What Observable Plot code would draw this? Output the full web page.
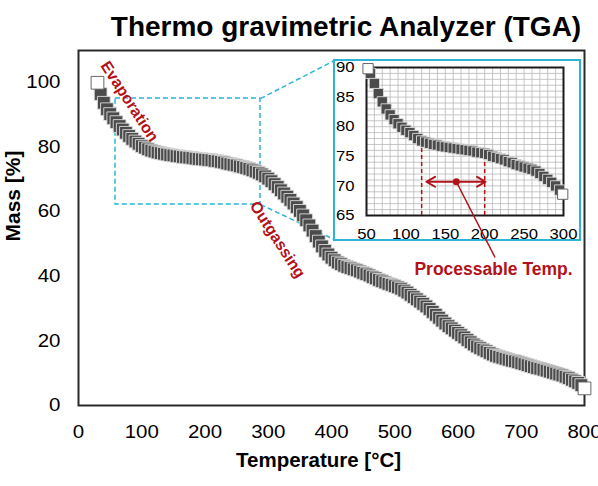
<!DOCTYPE html>
<html><head><meta charset="utf-8">
<script src="https://cdn.jsdelivr.net/npm/d3@7"></script>
<script src="https://cdn.jsdelivr.net/npm/@observablehq/plot@0.6"></script>
<style>
body{margin:0;background:#fff;}
#wrap{position:relative;width:598px;height:486px;overflow:hidden;font-family:"Liberation Sans",Arial,sans-serif;}
#title{height:44px;box-sizing:border-box;padding-top:13px;padding-left:94px;line-height:28px;font-size:28px;font-weight:bold;text-align:center;white-space:nowrap;color:#000;}
#inset{position:absolute;left:333px;top:59px;width:248px;height:182px;box-sizing:border-box;border:2px solid #2db3d6;background:#fff;}
</style></head>
<body><div id="wrap"><div id="title">Thermo gravimetric Analyzer (TGA)</div><div id="main"></div><div id="inset"></div></div>
<script>
// ---- main TGA curve (Temperature °C, Mass %) ----
const mainTemp = [30,35,40,45,50,55,60,65,70,75,80,85,90,95,100,105,110,115,120,125,130,135,140,145,150,155,160,165,170,175,180,185,190,195,200,205,210,215,220,225,230,235,240,245,250,255,260,265,270,275,280,285,290,295,300,305,310,315,320,325,330,335,340,345,350,355,360,365,370,375,380,385,390,395,400,405,410,415,420,425,430,435,440,445,450,455,460,465,470,475,480,485,490,495,500,505,510,515,520,525,530,535,540,545,550,555,560,565,570,575,580,585,590,595,600,605,610,615,620,625,630,635,640,645,650,655,660,665,670,675,680,685,690,695,700,705,710,715,720,725,730,735,740,745,750,755,760,765,770,775,780,785,790,795,800];
const mainMass = [100,96.5,93.8,91.8,90.3,89.0,87.8,86.6,85.5,84.5,83.5,82.6,81.8,81.1,80.4,79.9,79.4,79.0,78.7,78.4,78.2,78.0,77.8,77.6,77.5,77.3,77.2,77.0,76.9,76.8,76.7,76.5,76.4,76.3,76.2,76.1,76.0,75.8,75.7,75.5,75.3,75.0,74.8,74.6,74.4,74.1,73.9,73.6,73.3,72.9,72.5,72.1,71.6,71.0,70.3,69.5,68.6,67.7,66.7,65.7,64.7,63.7,62.6,61.5,60.3,58.9,57.4,55.8,54.2,52.5,50.8,49.3,47.9,46.8,45.8,45.0,44.3,43.8,43.3,42.9,42.6,42.2,41.9,41.5,41.1,40.7,40.3,39.8,39.4,38.9,38.5,38.1,37.7,37.4,37.0,36.6,36.2,35.6,35.0,34.3,33.6,32.9,32.2,31.5,30.7,29.9,29.0,28.1,27.2,26.3,25.4,24.6,23.9,23.2,22.5,21.8,21.1,20.3,19.6,18.9,18.3,17.8,17.3,16.8,16.3,15.8,15.4,15.1,14.8,14.5,14.2,13.9,13.7,13.4,13.1,12.8,12.5,12.2,11.9,11.6,11.4,11.1,10.8,10.5,10.2,9.9,9.6,9.3,8.9,8.5,8.0,7.5,7.0,6.3,5.3];

// ---- inset (zoomed 50–300 °C) ----
const insetTemp = [52,55,60,65,70,75,80,85,90,95,100,105,110,115,120,125,130,135,140,145,150,155,160,165,170,175,180,185,190,195,200,205,210,215,220,225,230,235,240,245,250,255,260,265,270,275,280,285,290,295,299];
const insetMass = [89.8,89.0,87.3,85.6,84.2,83.0,82.0,81.2,80.5,79.9,79.4,79.0,78.5,78.0,77.6,77.4,77.2,77.0,76.9,76.7,76.6,76.5,76.4,76.3,76.2,76.1,76.0,75.9,75.7,75.6,75.5,75.3,75.0,74.8,74.6,74.4,74.1,73.9,73.6,73.4,73.2,73.0,72.8,72.5,72.1,71.6,71.1,70.6,70.0,69.3,68.6];

// ---- ticks ----
const xTicks = [0,100,200,300,400,500,600,700,800];
const yTicks = [0,20,40,60,80,100];
const insetXTicks = [50,100,150,200,250,300];
const insetYTicks = [65,70,75,80,85,90];
const insetGridX = [50,60,70,80,90,100,110,120,130,140,150,160,170,180,190,200,210,220,230,240,250,260,270,280,290,300];
const insetGridY = [65,66,67,68,69,70,71,72,73,74,75,76,77,78,79,80,81,82,83,84,85,86,87,88,89,90];

// ---- annotations ----
const annotLabels = ["Evaporation","Outgassing"];
const annotTemp = [80.6, 314.6];
const annotMass = [94.2, 51.4];
const zoomBoxTemp = [58.5, 287.7];
const zoomBoxMass = [62.3, 95.1];
const insetCornerTemp = 404.7;
const insetCornerMass = [106.9, 51.4];
const processTemp = [120, 200];
const processTop = [76.3, 74.4];
const arrowTemp = [126, 164, 201];
const arrowMass = 70.7;
const leaderEnd = [213.2, 57.9];
const processLabel = "Processable Temp.";
const processLabelAt = [211.2, 55.9];

const RED = "#b3121a", CYAN = "#2db3d6";
const FONT = "'Liberation Sans', Arial, sans-serif";

const mainData = mainTemp.map((t, i) => ({t, m: mainMass[i], end: i === 0 || i === mainTemp.length - 1}));
const insetData = insetTemp.map((t, i) => ({t, m: insetMass[i], end: i === 0 || i === insetTemp.length - 1}));
const zoomBox = [{x1: zoomBoxTemp[0], x2: zoomBoxTemp[1], y1: zoomBoxMass[0], y2: zoomBoxMass[1]}];
const connectors = [
  {x1: zoomBoxTemp[1], y1: zoomBoxMass[1], x2: insetCornerTemp, y2: insetCornerMass[0]},
  {x1: zoomBoxTemp[1], y1: zoomBoxMass[0], x2: insetCornerTemp, y2: insetCornerMass[1]}
];
const annots = annotLabels.map((label, i) => ({label, t: annotTemp[i], m: annotMass[i]}));

function stretchTicks(svg, k) {
  svg.querySelectorAll('g[aria-label$="tick label"] text').forEach(t => {
    let tr = t.getAttribute("transform") || "";
    const x = t.getAttribute("x");
    if (x !== null) { tr += ` translate(${x},0)`; t.removeAttribute("x"); }
    t.setAttribute("transform", `${tr} scale(${k},1)`);
  });
}

const main = Plot.plot({
  width: 598, height: 442,
  marginTop: 6, marginLeft: 78, marginRight: 14, marginBottom: 81,
  style: {fontFamily: FONT, fontSize: "17.5px", color: "#000", background: "transparent", overflow: "visible"},
  x: {domain: [0, 800]},
  y: {domain: [0, 110]},
  marks: [
    Plot.axisX({ticks: xTicks, tickSize: 0, tickPadding: 20, label: null}),
    Plot.axisY({ticks: yTicks, tickSize: 0, tickPadding: 18, label: null}),
    Plot.frame({stroke: "#2a2a2a", strokeWidth: 2}),
    Plot.rect(zoomBox, {x1: "x1", x2: "x2", y1: "y1", y2: "y2", fill: "none", stroke: CYAN, strokeWidth: 1.5, strokeDasharray: "5,3"}),
    Plot.link(connectors, {x1: "x1", y1: "y1", x2: "x2", y2: "y2", stroke: CYAN, strokeWidth: 1.5, strokeDasharray: "5,3"}),
    Plot.dot(mainData.filter(d => !d.end), {x: "t", y: "m", symbol: "square", r: 7.2, fill: "#4b4b4b", stroke: "#dcdcdc", strokeWidth: 0.9}),
    Plot.dot(mainData.filter(d => d.end), {x: "t", y: "m", symbol: "square", r: 7.2, fill: "#fff", stroke: "#666", strokeWidth: 1}),
    Plot.text(annots, {x: "t", y: "m", text: "label", rotate: 57, fill: RED, fontWeight: "bold", fontSize: 16}),
    Plot.text(["Temperature [°C]"], {text: d => d, frameAnchor: "bottom", dy: 61, dx: -13, fontWeight: "bold", fontSize: 20.5}),
    Plot.text(["Mass [%]"], {text: d => d, frameAnchor: "left", dx: -65, dy: 13.5, rotate: -90, fontWeight: "bold", fontSize: 21})
  ]
});
stretchTicks(main, 1.17);
document.getElementById("main").appendChild(main);

const arrowSegs = [
  {x1: arrowTemp[1], x2: arrowTemp[0], y: arrowMass},
  {x1: arrowTemp[1], x2: arrowTemp[2], y: arrowMass}
];
const processRules = processTemp.map((t, i) => ({t, top: processTop[i]}));
const leader = [{x1: arrowTemp[1], y1: arrowMass, x2: leaderEnd[0], y2: leaderEnd[1]}];

const inset = Plot.plot({
  width: 244, height: 178,
  marginTop: 6, marginLeft: 31, marginRight: 16, marginBottom: 24,
  style: {fontFamily: FONT, fontSize: "14.5px", color: "#000", background: "transparent", overflow: "visible"},
  x: {domain: [50, 300]},
  y: {domain: [65, 90]},
  marks: [
    Plot.gridX(insetGridX, {stroke: "#b8b8b8", strokeOpacity: 1, strokeWidth: 0.8}),
    Plot.gridY(insetGridY, {stroke: "#b8b8b8", strokeOpacity: 1, strokeWidth: 0.8}),
    Plot.frame({stroke: "#1a1a1a", strokeWidth: 2}),
    Plot.axisX({ticks: insetXTicks, tickSize: 0, tickPadding: 13, label: null}),
    Plot.axisY({ticks: insetYTicks, tickSize: 0, tickPadding: 12, label: null}),
    Plot.ruleX(processRules, {x: "t", y1: 65, y2: "top", stroke: RED, strokeWidth: 1.5, strokeDasharray: "4,3"}),
    Plot.dot(insetData.filter(d => !d.end), {x: "t", y: "m", symbol: "square", r: 5.8, fill: "#4b4b4b", stroke: "#dcdcdc", strokeWidth: 0.9}),
    Plot.dot(insetData.filter(d => d.end), {x: "t", y: "m", symbol: "square", r: 5.8, fill: "#fff", stroke: "#666", strokeWidth: 1}),
    Plot.arrow(arrowSegs, {x1: "x1", x2: "x2", y1: "y", y2: "y", stroke: RED, strokeWidth: 2, headLength: 8, headAngle: 60}),
    Plot.link(leader, {x1: "x1", y1: "y1", x2: "x2", y2: "y2", stroke: RED, strokeWidth: 1.5}),
    Plot.dot([arrowTemp[1]], {x: d => d, y: () => arrowMass, r: 3.5, fill: RED}),
    Plot.text([processLabel], {text: d => d, x: () => processLabelAt[0], y: () => processLabelAt[1], fill: RED, fontWeight: "bold", fontSize: 17.5})
  ]
});
stretchTicks(inset, 1.15);
document.getElementById("inset").appendChild(inset);
</script></body></html>
